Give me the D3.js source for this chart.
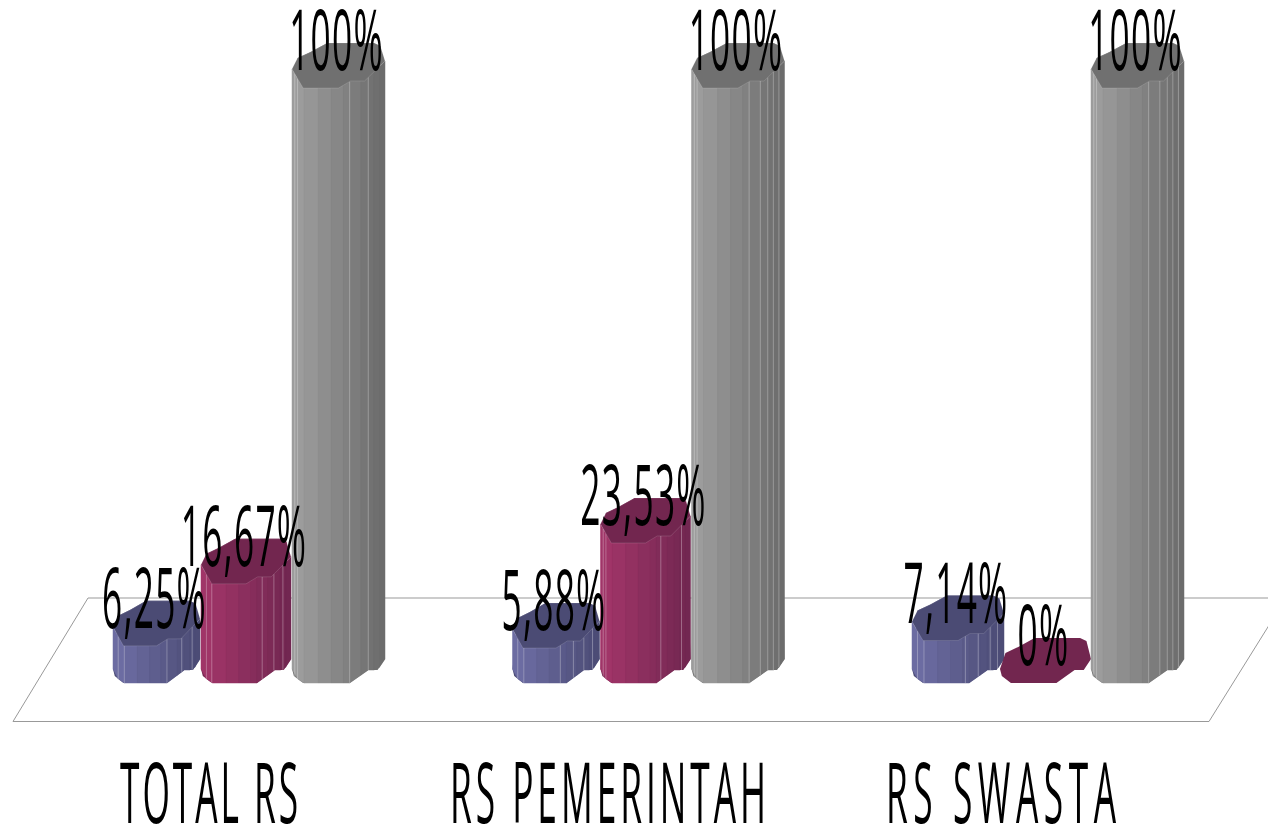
<!DOCTYPE html>
<html>
<head>
<meta charset="utf-8">
<style>
  html, body { margin: 0; padding: 0; background: #fff; overflow: hidden; }
  svg { display: block; }
  text { font-family: "Open Sans", sans-serif; font-weight: 400; fill: #000; }
</style>
<script src="https://cdn.jsdelivr.net/npm/d3@7/dist/d3.min.js"></script>
</head>
<body>
<svg id="chart" width="1268" height="828"></svg>
<script>
// Share of hospitals per group, in percent
const categories = ["TOTAL RS", "RS PEMERINTAH", "RS SWASTA"];
const seriesKeys = ["first", "second", "third"];
const firstValues = [6.25, 5.88, 7.14];
const secondValues = [16.67, 23.53, 0];
const thirdValues = [100, 100, 100];
const valueLabels = [
  ["6,25%", "5,88%", "7,14%"],
  ["16,67%", "23,53%", "0%"],
  ["100%", "100%", "100%"]
];

// Colours: lit side, shaded side and top cap of each column
const lightColors = ["#6c6ca2", "#a03568", "#9c9c9c"];
const darkColors = ["#4b4b74", "#702750", "#6a6a6a"];
const capColors = ["#4b4b74", "#72264f", "#707070"];

// Layout
const width = 1268, height = 828;
const baseY = 683, topY = 88;
const seriesOffset = [0, 88, 179];
const barWidths = [[87, 87, 92], [90, 90, 91], [93, 93, 93]];
const labelFont = 84, squeeze = 0.42, valueTracking = 3;
const categoryLeft = [120, 450, 886];
const categoryWidth = [178, 316, 230];

// Octagonal outline of a column: [fraction of width, vertical offset in px]
const capFront = [[0, -19], [0.12, 0], [0.5, 0], [0.63, -7], [0.78, -7], [1, -27]];
const capBack = [[0.95, -42], [0.88, -45], [0.38, -45], [0.2, -36], [0.06, -30]];
const footFront = [[0, -14], [0.02, -7], [0.12, 0], [0.62, 0], [0.82, -13], [0.92, -13], [1, -24]];
const facetStops = [0, 0.06, 0.13, 0.28, 0.42, 0.55, 0.62, 0.74, 0.82, 0.88, 0.94, 1];

// Pale ridges differ a little from column to column: [series][group]
const ridgeStops = [
  [[0.06, 0.13, 0.62, 0.79, 0.91], [0.06, 0.13, 0.55, 0.7, 0.82, 0.92], [0.06, 0.13, 0.58, 0.72, 0.85, 0.93]],
  [[0.06, 0.12, 0.68, 0.81, 0.91], [0.03, 0.06, 0.67, 0.9], []],
  [[0.03, 0.06, 0.62, 0.82], [0.03, 0.06, 0.62, 0.74, 0.82, 0.88, 0.94], [0.03, 0.06, 0.62, 0.74, 0.82, 0.88, 0.94]]
];

const capProfile = d3.scaleLinear().domain(capFront.map(d => d[0])).range(capFront.map(d => d[1]));
const footProfile = d3.scaleLinear().domain(footFront.map(d => d[0])).range(footFront.map(d => d[1]));

const groupX = d3.scalePoint().domain(categories).range([113, 912]);
const seriesX = d3.scaleOrdinal().domain(seriesKeys).range(seriesOffset);
const y = d3.scaleLinear().domain([0, 100]).range([baseY, topY]);

const svg = d3.select("#chart").attr("viewBox", [0, 0, width, height]);

// Perspective floor
svg.append("path")
  .attr("d", d3.line()([[88, 598], [1286, 598], [1209, 721.5], [13, 721.5]]) + "Z")
  .attr("fill", "none")
  .attr("stroke", "#999")
  .attr("stroke-width", 1);

const rows = [firstValues, secondValues, thirdValues];
const line = d3.line();

// Columns, left to right in each group
categories.forEach((cat, g) => {
  seriesKeys.forEach((key, s) => {
    const value = rows[s][g];
    const x0 = groupX(cat) + seriesX(key);
    const w = barWidths[s][g];
    const T = y(value);
    const col = svg.append("g").attr("class", "column");
    const shade = d3.interpolateRgb(lightColors[s], darkColors[s]);
    const tone = f => shade(Math.max(0, (f - 0.1) / 0.9));

    // Footprint keeps the zero-height column visible
    col.append("path")
      .attr("d", line(footFront.concat(capBack).map(([f, dy], i) =>
        [x0 + f * w, (i < footFront.length ? baseY : T) + dy])) + "Z")
      .attr("fill", capColors[s]);

    if (value > 0) {
      // Side facets
      d3.pairs(facetStops).forEach(([a, b]) => {
        col.append("path")
          .attr("d", line([
            [x0 + a * w, T + capProfile(a)],
            [x0 + b * w, T + capProfile(b)],
            [x0 + b * w, baseY + footProfile(b)],
            [x0 + a * w, baseY + footProfile(a)]
          ]) + "Z")
          .attr("fill", tone((a + b) / 2))
          .attr("stroke", tone((a + b) / 2))
          .attr("stroke-width", 0.5);
      });
      // Pale ridges between facets
      ridgeStops[s][g].forEach(f => {
        col.append("line")
          .attr("x1", x0 + f * w).attr("x2", x0 + f * w)
          .attr("y1", T + capProfile(f)).attr("y2", baseY + footProfile(f))
          .attr("stroke", "#fff").attr("stroke-opacity", 0.3).attr("stroke-width", 1);
      });
      // Cap
      col.append("path")
        .attr("d", line(capFront.concat(capBack).map(([f, dy]) => [x0 + f * w, T + dy])) + "Z")
        .attr("fill", capColors[s])
        .attr("stroke", "#fff").attr("stroke-opacity", 0.2).attr("stroke-width", 0.7);
    }
  });
});

// Value labels sit above the cap of each column
categories.forEach((cat, g) => {
  seriesKeys.forEach((key, s) => {
    const cx = groupX(cat) + seriesX(key) + barWidths[s][g] / 2 - 2;
    svg.append("text")
      .attr("transform", `translate(${cx},${y(rows[s][g]) - 18}) scale(${squeeze},1)`)
      .attr("text-anchor", "middle")
      .attr("font-size", labelFont)
      .attr("letter-spacing", valueTracking)
      .text(valueLabels[s][g]);
  });
});

// Category labels along the bottom
categories.forEach((cat, g) => {
  svg.append("text")
    .attr("transform", `translate(${categoryLeft[g]},823) scale(${squeeze},1)`)
    .attr("font-size", labelFont)
    .attr("textLength", categoryWidth[g] / squeeze)
    .attr("lengthAdjust", "spacing")
    .text(cat);
});
</script>
</body>
</html>
